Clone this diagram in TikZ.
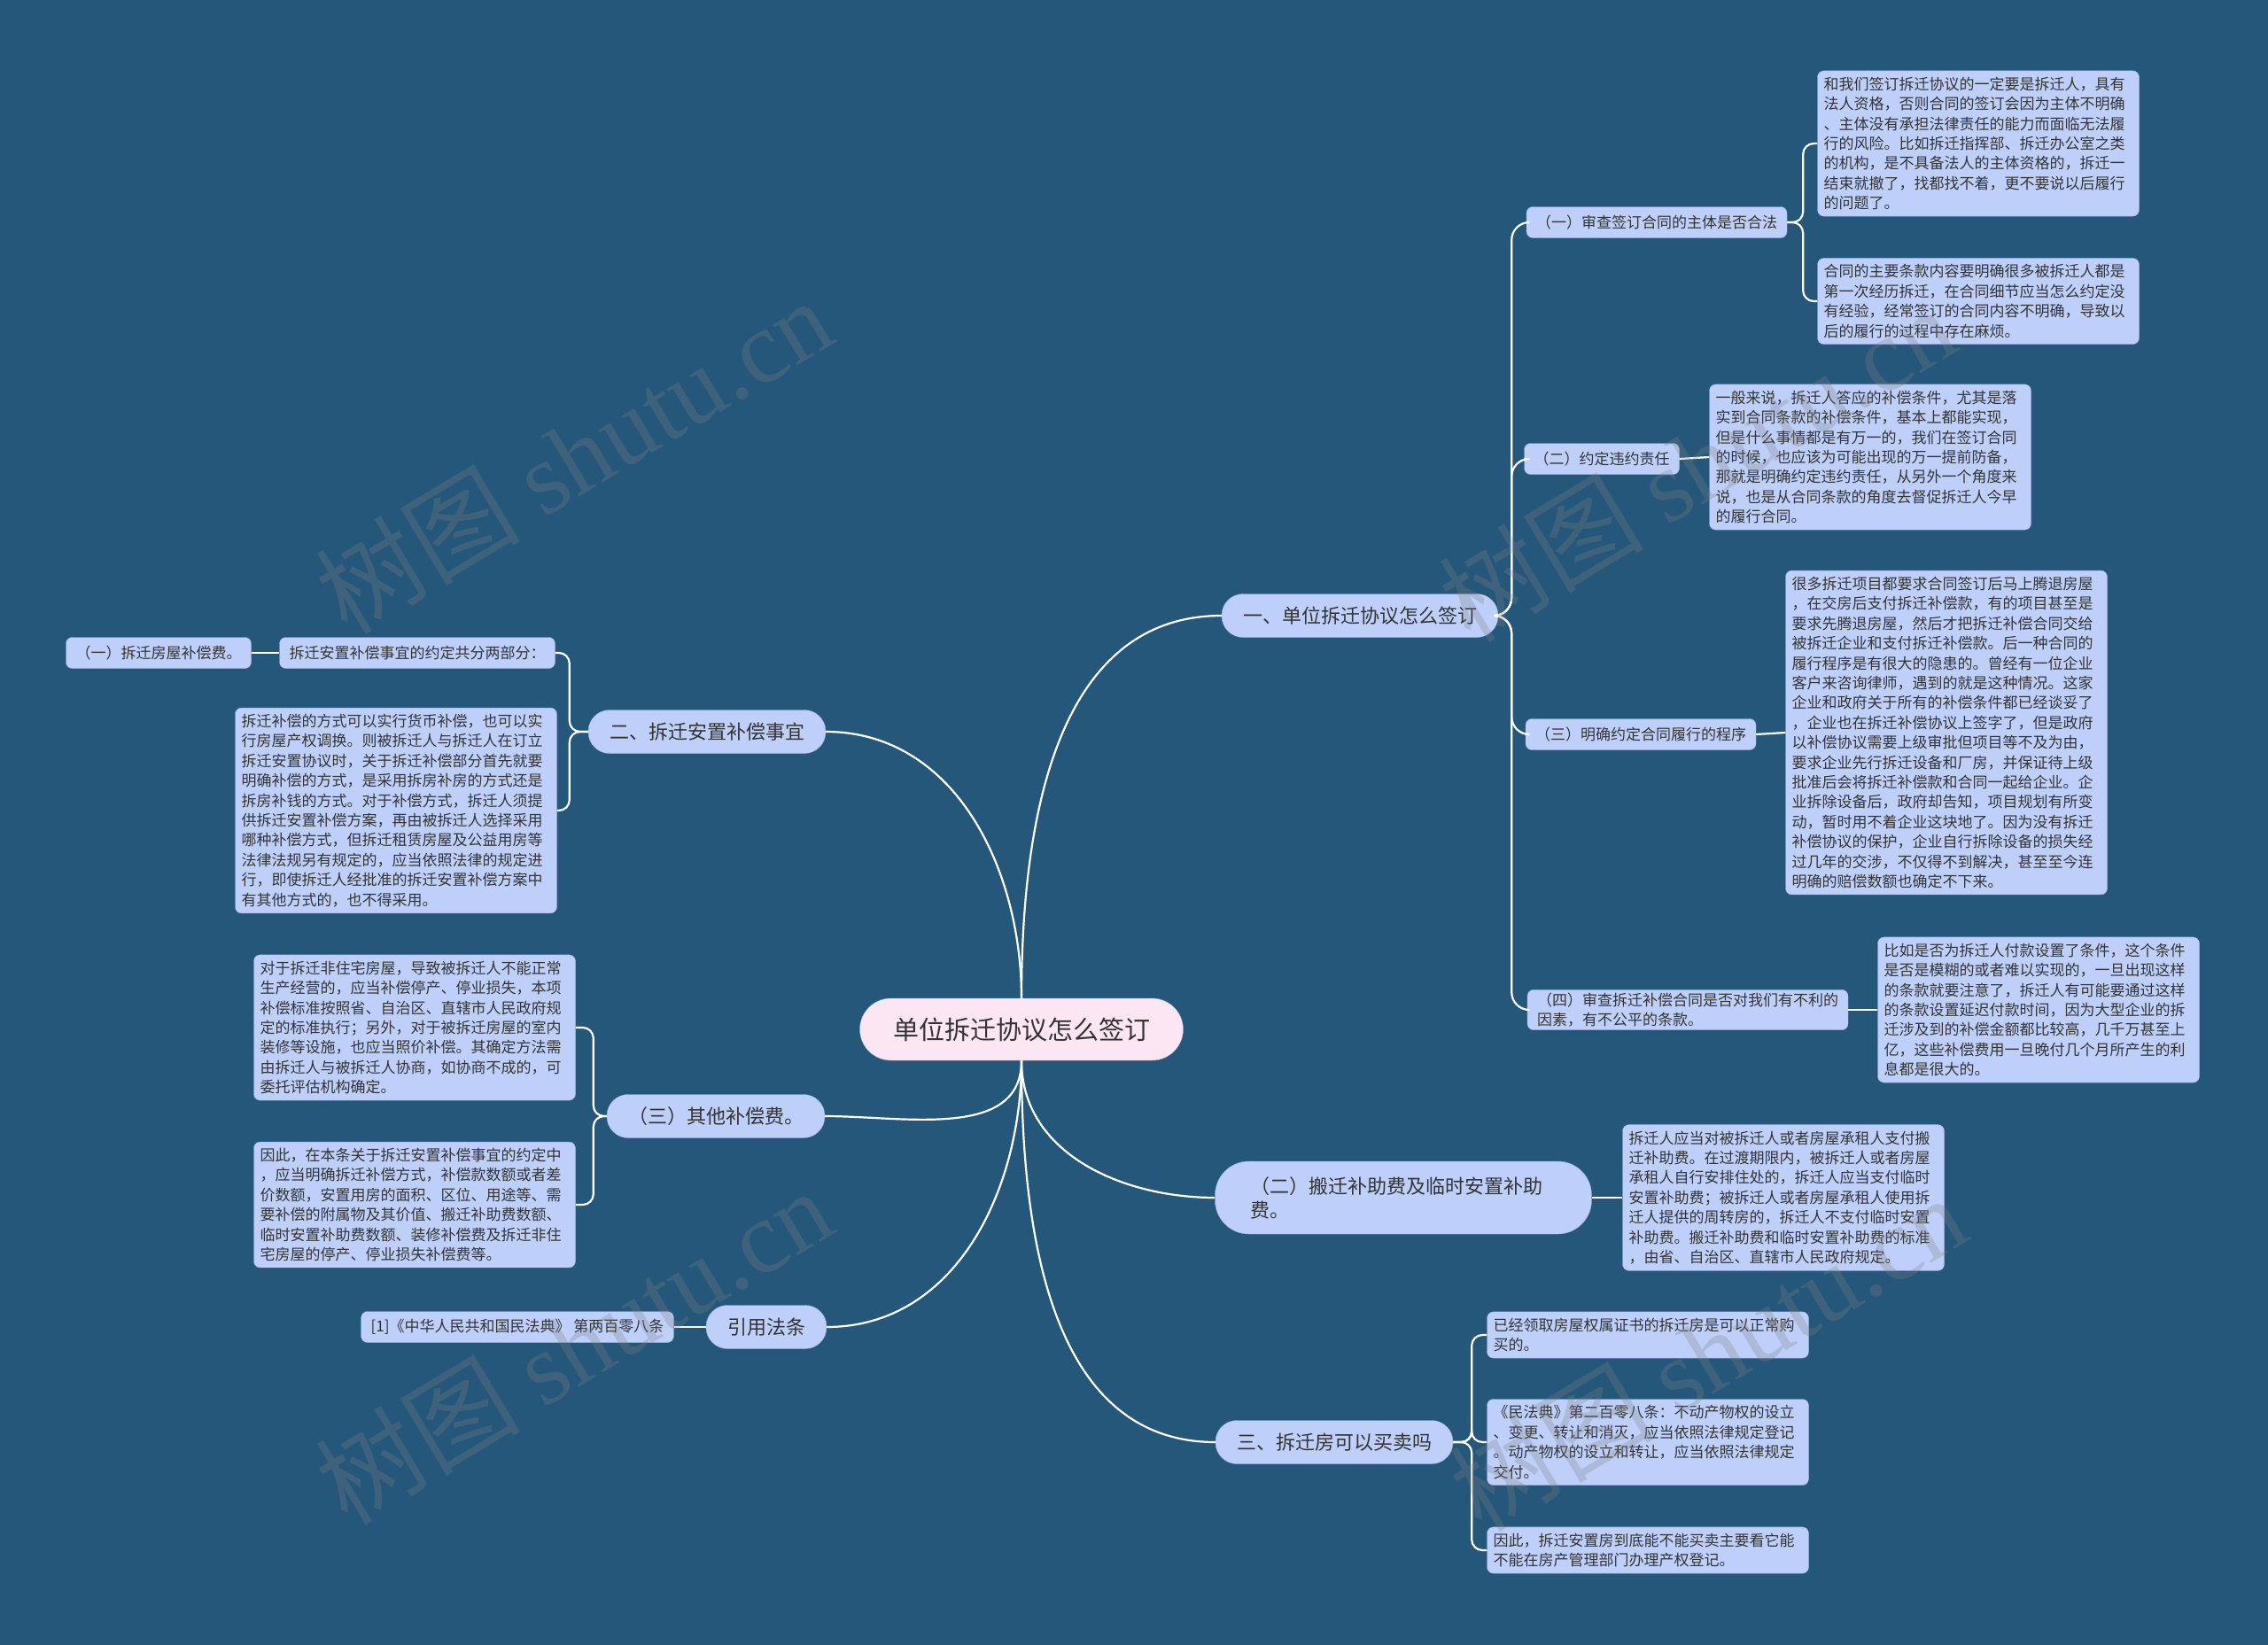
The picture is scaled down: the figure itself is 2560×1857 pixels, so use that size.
\documentclass[tikz,border=0pt]{standalone}
\usepackage{fontspec}
\setmainfont{Noto Sans CJK SC}
\newfontfamily\wmfont{Liberation Serif}
\definecolor{bgblue}{HTML}{25577A}
\definecolor{nodeblue}{HTML}{BED0FA}
\definecolor{nodeedge}{HTML}{97ACDC}
\definecolor{rootpink}{HTML}{FDE6F3}
\definecolor{inkgray}{HTML}{333333}

\begin{document}
\begin{tikzpicture}[
  x=1pt, y=-1pt,
  rootnode/.style={fill=rootpink, draw=nodeedge, rounded corners=35pt, minimum width=365pt, minimum height=70pt, text=inkgray, font=\fontsize{29}{34}\selectfont},
  topic/.style={fill=nodeblue, draw=nodeedge, rounded corners=24pt, minimum height=49pt, inner xsep=24pt, text=inkgray, font=\fontsize{22}{27}\selectfont},
  subtopic/.style={fill=nodeblue, draw=nodeedge, rounded corners=7pt, minimum height=35pt, inner xsep=11pt, text=inkgray, font=\fontsize{17}{22.4}\selectfont},
  leaf/.style={subtopic, text width=349pt, align=left, inner xsep=7pt, inner ysep=7pt},
  link/.style={draw=white, line width=2.2pt},
  bracket/.style={link, rounded corners=12pt},
  watermark/.style={text=gray, opacity=0.28, rotate=31, font=\fontsize{116}{116}\selectfont},
]
  % 背景
  \fill[bgblue] (0,0) rectangle (2560,1857);
  \useasboundingbox (0,0) rectangle (2560,1857);

  % 中心主题
  \node[rootnode] (root) at (1153,1162) {单位拆迁协议怎么签订};

  % 右侧分支
  \node[topic] (b1) at (1535,695) {一、单位拆迁协议怎么签订};
  \node[topic, rounded corners=38pt, minimum height=82pt, text width=345pt, inner xsep=40pt, align=left]
    (b2) at (1584,1352) {（二）搬迁补助费及临时安置补助\\费。};
  \node[topic] (b3) at (1506,1628) {三、拆迁房可以买卖吗};

  % 左侧分支
  \node[topic] (l1) at (798,826) {二、拆迁安置补偿事宜};
  \node[topic] (l2) at (808,1260) {（三）其他补偿费。};
  \node[topic] (l3) at (865,1498) {引用法条};

  % 一、下的四条
  \node[subtopic] (s1) at (1870,251) {（一）审查签订合同的主体是否合法};
  \node[subtopic] (s2) at (1808,518) {（二）约定违约责任};
  \node[subtopic] (s3) at (1852,829) {（三）明确约定合同履行的程序};
  \node[subtopic, align=left] (s4) at (1905,1140) {（四）审查拆迁补偿合同是否对我们有不利的\\因素，有不公平的条款。};

  \node[leaf] (t1a) at (2233,162) {和我们签订拆迁协议的一定要是拆迁人，具有\\法人资格，否则合同的签订会因为主体不明确\\、主体没有承担法律责任的能力而面临无法履\\行的风险。比如拆迁指挥部、拆迁办公室之类\\的机构，是不具备法人的主体资格的，拆迁一\\结束就撤了，找都找不着，更不要说以后履行\\的问题了。};
  \node[leaf] (t1b) at (2233,340) {合同的主要条款内容要明确很多被拆迁人都是\\第一次经历拆迁，在合同细节应当怎么约定没\\有经验，经常签订的合同内容不明确，导致以\\后的履行的过程中存在麻烦。};
  \node[leaf] (t2) at (2111,516) {一般来说，拆迁人答应的补偿条件，尤其是落\\实到合同条款的补偿条件，基本上都能实现，\\但是什么事情都是有万一的，我们在签订合同\\的时候，也应该为可能出现的万一提前防备，\\那就是明确约定违约责任，从另外一个角度来\\说，也是从合同条款的角度去督促拆迁人今早\\的履行合同。};
  \node[leaf] (t3) at (2197,827) {很多拆迁项目都要求合同签订后马上腾退房屋\\，在交房后支付拆迁补偿款，有的项目甚至是\\要求先腾退房屋，然后才把拆迁补偿合同交给\\被拆迁企业和支付拆迁补偿款。后一种合同的\\履行程序是有很大的隐患的。曾经有一位企业\\客户来咨询律师，遇到的就是这种情况。这家\\企业和政府关于所有的补偿条件都已经谈妥了\\，企业也在拆迁补偿协议上签字了，但是政府\\以补偿协议需要上级审批但项目等不及为由，\\要求企业先行拆迁设备和厂房，并保证待上级\\批准后会将拆迁补偿款和合同一起给企业。企\\业拆除设备后，政府却告知，项目规划有所变\\动，暂时用不着企业这块地了。因为没有拆迁\\补偿协议的保护，企业自行拆除设备的损失经\\过几年的交涉，不仅得不到解决，甚至至今连\\明确的赔偿数额也确定不下来。};
  \node[leaf] (t4) at (2301,1140) {比如是否为拆迁人付款设置了条件，这个条件\\是否是模糊的或者难以实现的，一旦出现这样\\的条款就要注意了，拆迁人有可能要通过这样\\的条款设置延迟付款时间，因为大型企业的拆\\迁涉及到的补偿金额都比较高，几千万甚至上\\亿，这些补偿费用一旦晚付几个月所产生的利\\息都是很大的。};

  % （二）搬迁补助费
  \node[leaf] (t5) at (2013,1352) {拆迁人应当对被拆迁人或者房屋承租人支付搬\\迁补助费。在过渡期限内，被拆迁人或者房屋\\承租人自行安排住处的，拆迁人应当支付临时\\安置补助费；被拆迁人或者房屋承租人使用拆\\迁人提供的周转房的，拆迁人不支付临时安置\\补助费。搬迁补助费和临时安置补助费的标准\\，由省、自治区、直辖市人民政府规定。};

  % 三、拆迁房可以买卖吗
  \node[leaf] (t6a) at (1860,1507) {已经领取房屋权属证书的拆迁房是可以正常购\\买的。};
  \node[leaf] (t6b) at (1860,1628) {《民法典》第二百零八条：不动产物权的设立\\、变更、转让和消灭，应当依照法律规定登记\\。动产物权的设立和转让，应当依照法律规定\\交付。};
  \node[leaf] (t6c) at (1860,1750) {因此，拆迁安置房到底能不能买卖主要看它能\\不能在房产管理部门办理产权登记。};

  % 二、拆迁安置补偿事宜
  \node[subtopic] (p0) at (471,737) {拆迁安置补偿事宜的约定共分两部分：};
  \node[subtopic] (p1) at (179,737) {（一）拆迁房屋补偿费。};
  \node[leaf] (p2) at (447,915) {拆迁补偿的方式可以实行货币补偿，也可以实\\行房屋产权调换。则被拆迁人与拆迁人在订立\\拆迁安置协议时，关于拆迁补偿部分首先就要\\明确补偿的方式，是采用拆房补房的方式还是\\拆房补钱的方式。对于补偿方式，拆迁人须提\\供拆迁安置补偿方案，再由被拆迁人选择采用\\哪种补偿方式，但拆迁租赁房屋及公益用房等\\法律法规另有规定的，应当依照法律的规定进\\行，即使拆迁人经批准的拆迁安置补偿方案中\\有其他方式的，也不得采用。};

  % （三）其他补偿费
  \node[leaf] (q1) at (468,1160) {对于拆迁非住宅房屋，导致被拆迁人不能正常\\生产经营的，应当补偿停产、停业损失，本项\\补偿标准按照省、自治区、直辖市人民政府规\\定的标准执行；另外，对于被拆迁房屋的室内\\装修等设施，也应当照价补偿。其确定方法需\\由拆迁人与被拆迁人协商，如协商不成的，可\\委托评估机构确定。};
  \node[leaf] (q2) at (468,1360) {因此，在本条关于拆迁安置补偿事宜的约定中\\，应当明确拆迁补偿方式，补偿款数额或者差\\价数额，安置用房的面积、区位、用途等、需\\要补偿的附属物及其价值、搬迁补助费数额、\\临时安置补助费数额、装修补偿费及拆迁非住\\宅房屋的停产、停业损失补偿费等。};

  % 引用法条
  \node[subtopic] (r1) at (584,1498) {[1]《中华人民共和国民法典》 第两百零八条};

  % 连线
  \draw[link] (root.north) to[out=90,in=180] (b1.west);
  \draw[link] (root.south) to[out=-90,in=180] (b2.west);
  \draw[link] (root.south) to[out=-90,in=180] (b3.west);
  \draw[link] (l1.east) to[out=0,in=90] (root.north);
  \draw[link] (l2.east) to[out=0,in=-90] (root.south);
  \draw[link] (l3.east) to[out=0,in=-90] (root.south);

  \foreach \s in {s1,s2,s3,s4}
    \draw[bracket, rounded corners=20pt] (b1.east) -- ++(15,0) |- (\s.west);
  \foreach \t in {t1a,t1b}
    \draw[bracket] (s1.east) -- ++(18,0) |- (\t.west);
  \draw[link] (s2.east) -- (t2.west);
  \draw[link] (s3.east) -- (t3.west);
  \draw[link] (s4.east) -- (t4.west);
  \draw[link] (b2.east) -- (t5.west);
  \foreach \t in {t6a,t6b,t6c}
    \draw[bracket] (b3.east) -- ++(21,0) |- (\t.west);
  \foreach \t in {p0,p2}
    \draw[bracket] (l1.west) -- ++(-21,0) |- (\t.east);
  \draw[link] (p0.west) -- (p1.east);
  \foreach \t in {q1,q2}
    \draw[bracket] (l2.west) -- ++(-15,0) |- (\t.east);
  \draw[link] (l3.west) -- (r1.east);

  % 水印
  \foreach \wx/\wy [count=\w] in {647/514, 1915/523, 647/1519, 1927/1527}
    \node[watermark] (wm\w) at (\wx,\wy) {树图 {\wmfont shutu.cn}};
\end{tikzpicture}
\end{document}
